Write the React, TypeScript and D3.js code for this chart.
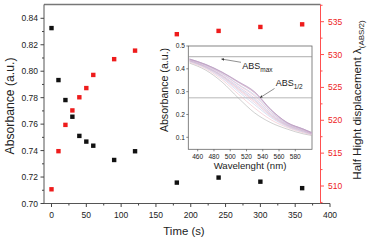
import React from "react";
import * as d3 from "d3";

// Main chart data
const times = [0, 10, 20, 30, 40, 50, 60, 90, 120, 180, 240, 300, 360];
const absorbance = [0.8326, 0.7933, 0.7782, 0.7656, 0.7511, 0.7468, 0.7437, 0.7329, 0.7395, 0.7158, 0.7196, 0.7165, 0.7116];
const halfHeight = [509.5, 515.3, 519.3, 521.5, 523.5, 524.9, 526.9, 529.3, 530.6, 533.1, 533.6, 534.2, 534.6];

const xTicks = [0, 50, 100, 150, 200, 250, 300, 350, 400];
const xMinor = [25, 75, 125, 175, 225, 275, 325, 375];
const yLeftTicks = [0.7, 0.72, 0.74, 0.76, 0.78, 0.8, 0.82, 0.84];
const yLeftMinor = [0.71, 0.73, 0.75, 0.77, 0.79, 0.81, 0.83];
const yRightTicks = [510, 515, 520, 525, 530, 535];
const yRightMinor = [507.5, 512.5, 517.5, 522.5, 527.5, 532.5, 537.5];

// Inset spectra
const wavelengths = [450, 470, 490, 510, 530, 550, 570, 590, 600];
const spectra = [
  [0.425, 0.394, 0.342, 0.272, 0.207, 0.164, 0.136, 0.115, 0.108],
  [0.429, 0.400, 0.352, 0.289, 0.228, 0.177, 0.143, 0.120, 0.111],
  [0.432, 0.404, 0.359, 0.300, 0.243, 0.187, 0.147, 0.123, 0.113],
  [0.434, 0.406, 0.363, 0.307, 0.252, 0.192, 0.150, 0.125, 0.114],
  [0.435, 0.408, 0.367, 0.312, 0.259, 0.196, 0.152, 0.127, 0.115],
  [0.436, 0.409, 0.369, 0.316, 0.264, 0.199, 0.154, 0.128, 0.116],
  [0.437, 0.411, 0.372, 0.322, 0.271, 0.204, 0.156, 0.130, 0.117],
  [0.439, 0.414, 0.377, 0.329, 0.280, 0.210, 0.159, 0.132, 0.118],
  [0.440, 0.415, 0.379, 0.332, 0.285, 0.213, 0.160, 0.133, 0.119],
  [0.442, 0.418, 0.383, 0.340, 0.294, 0.219, 0.163, 0.135, 0.120],
  [0.442, 0.418, 0.384, 0.341, 0.296, 0.220, 0.164, 0.135, 0.120],
  [0.443, 0.419, 0.385, 0.343, 0.298, 0.221, 0.164, 0.136, 0.121],
  [0.443, 0.419, 0.386, 0.344, 0.300, 0.222, 0.165, 0.136, 0.121],
];
const spectraColors = ["#a8a8a8", "#f0b8c4", "#bcc8e8", "#d8b8d4", "#f0b0b8", "#b4c4e8", "#c8a8d0", "#f0b8c8", "#aebce0", "#d0a8c8", "#e8aab8", "#aab4dc", "#b890b8"];
const insetXTicks = [460, 480, 500, 520, 540, 560, 580];
const insetYTicks = [0.1, 0.2, 0.3, 0.4, 0.5];
const absMax = 0.453;
const absHalf = 0.273;

const FONT = "'Liberation Sans', Arial, sans-serif";

export default function App() {
  const W = 367, H = 240;
  const x = d3.scaleLinear().domain([0, 400]).range([51.5, 330]);
  const yL = d3.scaleLinear().domain([0.7, 0.84]).range([203.5, 18.3]);
  const yR = d3.scaleLinear().domain([510, 535]).range([186, 21.7]);
  const left = 44, top = 4.5, bottom = 203.5, right = 320.5;

  const ix = d3.scaleLinear().domain([460, 580]).range([197.7, 295.3]);
  const iy = d3.scaleLinear().domain([0.1, 0.5]).range([137.3, 46]);
  const iL = 188.3, iR = 312, iT = 46, iB = 149.3;

  const line = d3.line<number>()
    .x((_, i) => ix(wavelengths[i]))
    .y((d) => iy(d))
    .curve(d3.curveMonotoneX);

  const red = "#ee1c1c";
  const redAxis = "#ff5050";
  const ms = 4.4;

  return (
    <svg width={W} height={H} style={{ position: "absolute", left: 0, top: 0, background: "#fff" }} fontFamily={FONT}>
      <defs>
        <clipPath id="inclip">
          <rect x={iL} y={iT} width={iR - iL} height={iB - iT} />
        </clipPath>
        <marker id="arr" viewBox="0 0 10 10" refX="9" refY="5" markerWidth="5" markerHeight="5" orient="auto">
          <path d="M0,1 L10,5 L0,9 z" fill="#333" />
        </marker>
      </defs>

      {/* top frame line */}
      <line x1={left} x2={right} y1={top} y2={top} stroke="#777" strokeWidth={1.5} />
      {/* left axis */}
      <line x1={left} x2={left} y1={top} y2={bottom} stroke="#555" strokeWidth={1} />
      {yLeftTicks.map((t) => (
        <g key={t}>
          <line x1={left - 3.5} x2={left} y1={yL(t)} y2={yL(t)} stroke="#444" />
          <text x={38} y={yL(t) + 3} fontSize={8.5} textAnchor="end" fill="#222">{t.toFixed(2)}</text>
        </g>
      ))}
      {yLeftMinor.map((t) => (
        <line key={t} x1={left - 2} x2={left} y1={yL(t)} y2={yL(t)} stroke="#444" />
      ))}
      <text transform={`translate(14,106) rotate(-90)`} fontSize={12.2} textAnchor="middle" fill="#222">Absorbance (a.u.)</text>

      {/* bottom axis */}
      <line x1={left} x2={330} y1={bottom} y2={bottom} stroke="#555" strokeWidth={1} />
      {xTicks.map((t) => (
        <g key={t}>
          <line x1={x(t)} x2={x(t)} y1={bottom} y2={bottom + 3.5} stroke="#444" />
          <text x={x(t)} y={218} fontSize={8.5} textAnchor="middle" fill="#222">{t}</text>
        </g>
      ))}
      {xMinor.map((t) => (
        <line key={t} x1={x(t)} x2={x(t)} y1={bottom} y2={bottom + 2} stroke="#444" />
      ))}
      <text x={184} y={235} fontSize={11.4} textAnchor="middle" fill="#222">Time (s)</text>

      {/* right axis */}
      <line x1={right} x2={right} y1={top} y2={bottom} stroke={redAxis} strokeWidth={1} />
      {yRightTicks.map((t) => (
        <g key={t}>
          <line x1={right} x2={right + 3.5} y1={yR(t)} y2={yR(t)} stroke={redAxis} />
          <text x={328} y={yR(t) + 3} fontSize={8.5} textAnchor="start" fill={red}>{t}</text>
        </g>
      ))}
      {yRightMinor.map((t) => (
        <line key={t} x1={right} x2={right + 2} y1={yR(t)} y2={yR(t)} stroke={redAxis} />
      ))}
      <text transform={`translate(361,100) rotate(-90)`} fontSize={11.6} textAnchor="middle" fill="#222">
        Half Hight displacement λ<tspan fontSize={8} dy={3}>(ABS/2)</tspan>
      </text>

      {/* black points */}
      {times.map((t, i) => (
        <rect key={"b" + t} x={x(t) - ms / 2} y={yL(absorbance[i]) - ms / 2} width={ms} height={ms} fill="#111" />
      ))}
      {/* red points */}
      {times.map((t, i) => (
        <rect key={"r" + t} x={x(t) - ms / 2} y={yR(halfHeight[i]) - ms / 2} width={ms} height={ms} fill={red} />
      ))}

      {/* inset */}
      <rect x={iL} y={iT} width={iR - iL} height={iB - iT} fill="#fff" stroke="#666" strokeWidth={0.8} />
      <g clipPath="url(#inclip)">
        <line x1={iL} x2={iR} y1={iy(absMax)} y2={iy(absMax)} stroke="#888" strokeWidth={0.7} />
        <line x1={iL} x2={iR} y1={iy(absHalf)} y2={iy(absHalf)} stroke="#999" strokeWidth={0.7} />
        {spectra.map((s, i) => (
          <path key={i} d={line(s) || ""} fill="none" stroke={spectraColors[i]} strokeWidth={0.55} />
        ))}
      </g>
      {insetYTicks.map((t) => (
        <g key={t}>
          <line x1={iL - 2} x2={iL} y1={iy(t)} y2={iy(t)} stroke="#555" strokeWidth={0.7} />
          <text x={185} y={iy(t) + 2.3} fontSize={6.6} textAnchor="end" fill="#222">{t.toFixed(1)}</text>
        </g>
      ))}
      {insetXTicks.map((t) => (
        <g key={t}>
          <line x1={ix(t)} x2={ix(t)} y1={iB} y2={iB + 2} stroke="#555" strokeWidth={0.7} />
          <text x={ix(t)} y={159} fontSize={6.6} textAnchor="middle" fill="#222">{t}</text>
        </g>
      ))}
      <text x={250} y={168.5} fontSize={9.6} textAnchor="middle" fill="#222">Wavelenght (nm)</text>
      <text transform={`translate(168,90) rotate(-90)`} fontSize={10.6} textAnchor="middle" fill="#222">Absorbance (a.u.)</text>

      {/* annotations */}
      <line x1={241} y1={62.3} x2={221.5} y2={59} stroke="#444" strokeWidth={0.6} markerEnd="url(#arr)" />
      <text x={242.3} y={69.3} fontSize={9} fill="#222">ABS<tspan fontSize={6.5} dy={2.5}>max</tspan></text>
      <line x1={274.5} y1={88.5} x2={260} y2={97.7} stroke="#444" strokeWidth={0.6} markerEnd="url(#arr)" />
      <text x={275.7} y={86} fontSize={9} fill="#222">ABS<tspan fontSize={6.5} dy={2.5}>1/2</tspan></text>
    </svg>
  );
}
